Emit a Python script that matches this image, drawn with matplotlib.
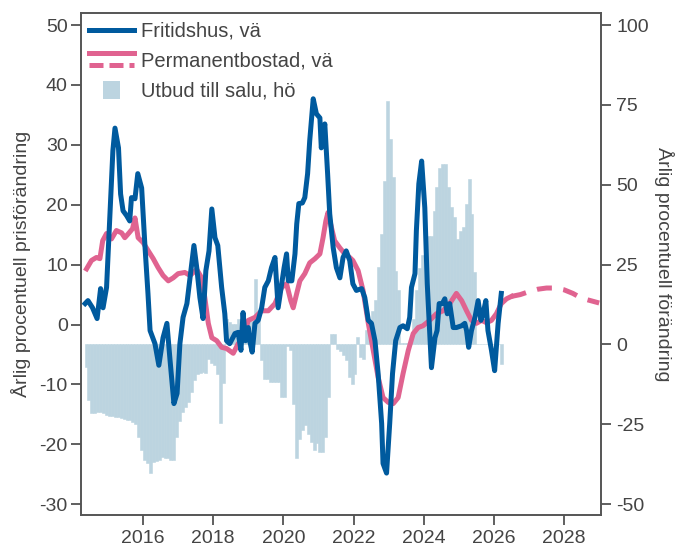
import numpy as np
import matplotlib
matplotlib.use("Agg")
import matplotlib.pyplot as plt
from matplotlib.lines import Line2D
from matplotlib.patches import Patch, Rectangle

plt.rcParams['font.family'] = ['Liberation Sans', 'DejaVu Sans']
plt.rcParams['axes.unicode_minus'] = False

BLUE = '#005a9e'
PINK = '#e06390'
BAR = '#bcd4e0'
GREY = '#444444'

# Fritidshus, årlig prisförändring (vänster axel)
fritid_t = [2014.35, 2014.43, 2014.56, 2014.69, 2014.79, 2014.86, 2014.96, 2015.06, 2015.14, 2015.20,
            2015.30, 2015.36, 2015.43, 2015.53, 2015.62, 2015.67, 2015.77, 2015.85, 2015.96, 2016.05,
            2016.14, 2016.20, 2016.34, 2016.45, 2016.57, 2016.68, 2016.77, 2016.88, 2016.97, 2017.05,
            2017.14, 2017.25, 2017.34, 2017.45, 2017.53, 2017.62, 2017.71, 2017.79, 2017.88, 2017.96,
            2018.05, 2018.13, 2018.24, 2018.33, 2018.38, 2018.47, 2018.62, 2018.71, 2018.79, 2018.85,
            2018.92, 2019.00, 2019.04, 2019.11, 2019.19, 2019.28, 2019.38, 2019.47, 2019.57, 2019.66,
            2019.76, 2019.85, 2019.95, 2020.02, 2020.09, 2020.14, 2020.24, 2020.33, 2020.38, 2020.44,
            2020.54, 2020.61, 2020.69, 2020.75, 2020.85, 2020.94, 2021.04, 2021.08, 2021.18, 2021.26,
            2021.32, 2021.42, 2021.51, 2021.61, 2021.70, 2021.79, 2021.89, 2021.98, 2022.08, 2022.23,
            2022.32, 2022.42, 2022.51, 2022.61, 2022.70, 2022.80, 2022.84, 2022.94, 2023.03, 2023.11,
            2023.20, 2023.32, 2023.41, 2023.53, 2023.60, 2023.65, 2023.75, 2023.79, 2023.86, 2023.94,
            2024.03, 2024.10, 2024.22, 2024.32, 2024.38, 2024.44, 2024.53, 2024.60, 2024.67, 2024.74,
            2024.84, 2024.93, 2025.08, 2025.17, 2025.22, 2025.28, 2025.36, 2025.46, 2025.55, 2025.63,
            2025.69, 2025.77, 2025.83, 2025.93, 2026.02, 2026.12, 2026.21]
fritid_v = [3.5, 4.0, 2.8, 1.0, 6.0, 2.8, 6.2, 19.0, 29.0, 32.8,
            29.5, 21.8, 19.0, 18.2, 17.3, 21.2, 21.0, 25.2, 22.8, 13.5,
            5.2, -1.0, -3.2, -6.8, -2.2, 0.2, -6.0, -13.2, -11.5, -3.2,
            1.2, 3.5, 7.8, 13.2, 9.5, 4.5, 1.0, 9.0, 12.3, 19.3,
            14.5, 13.2, 6.2, 1.8, -2.7, -3.2, -1.5, -1.3, -4.3, 2.0,
            -2.7, -0.5, -2.7, -4.6, 0.2, 0.7, 2.8, 6.2, 7.3, 9.5,
            11.2, 2.8, 6.8, 9.5, 11.8, 7.3, 7.3, 11.8, 16.8, 20.2,
            20.3, 21.2, 25.2, 30.7, 37.7, 35.2, 34.5, 29.5, 33.5, 25.2,
            18.5, 12.8, 9.5, 7.8, 11.2, 12.3, 10.7, 6.8, 5.7, 6.0,
            4.5, 0.7, 0.2, -2.7, -8.2, -16.5, -23.2, -24.8, -16.5, -8.2,
            -2.7, -0.5, -0.2, -0.7, 1.2, 6.2, 8.5, 15.7, 23.5, 27.3,
            19.5, 6.8, -7.2, -2.2, -1.0, 3.5, 3.5, 4.3, 1.8, 3.5,
            -0.5, -0.5, -0.2, 0.2, -1.0, -3.8, -1.0, 1.2, 4.0, 0.7,
            1.8, 4.0, -1.0, -4.3, -7.7, 0.2, 5.2]

# Permanentbostad, utfall (vänster axel)
perm_t = [2014.39, 2014.53, 2014.67, 2014.77, 2014.85, 2014.96, 2015.10, 2015.24, 2015.39, 2015.48,
          2015.60, 2015.70, 2015.77, 2015.86, 2016.00, 2016.15, 2016.29, 2016.43, 2016.57, 2016.72,
          2016.86, 2017.00, 2017.19, 2017.34, 2017.53, 2017.67, 2017.76, 2017.86, 2017.96, 2018.10,
          2018.24, 2018.38, 2018.57, 2018.71, 2018.85, 2019.00, 2019.19, 2019.38, 2019.57, 2019.76,
          2019.95, 2020.09, 2020.21, 2020.28, 2020.38, 2020.47, 2020.61, 2020.75, 2020.90, 2021.04,
          2021.13, 2021.21, 2021.27, 2021.37, 2021.46, 2021.61, 2021.75, 2021.89, 2021.98, 2022.13,
          2022.27, 2022.42, 2022.56, 2022.70, 2022.84, 2022.99, 2023.13, 2023.27, 2023.41, 2023.56,
          2023.70, 2023.84, 2023.98, 2024.17, 2024.36, 2024.55, 2024.74, 2024.93, 2025.08, 2025.22,
          2025.36, 2025.50, 2025.65, 2025.79, 2025.93, 2026.07, 2026.21, 2026.36, 2026.50]
perm_v = [9.3, 10.7, 11.2, 11.0, 14.0, 15.2, 14.3, 15.7, 15.3, 14.5,
          15.3, 16.0, 17.8, 14.5, 13.7, 12.3, 11.0, 9.5, 8.2, 7.3,
          7.8, 8.5, 8.7, 8.2, 9.2, 7.8, 4.5, 0.2, -2.2, -2.7,
          -3.8, -4.0, -4.8, -3.2, -2.2, 0.7, 1.2, 2.3, 2.3, 3.5,
          6.2, 6.8, 4.0, 2.8, 5.2, 7.3, 8.5, 10.3, 11.0, 11.8,
          14.5, 17.3, 18.7, 16.2, 14.0, 12.8, 11.8, 11.2, 10.7, 9.0,
          5.7, 0.2, -4.3, -8.8, -12.2, -13.0, -13.2, -12.2, -8.2, -4.3,
          -1.5, -0.5, -0.2, 0.7, 1.8, 2.3, 3.5, 5.2, 4.0, 2.3,
          0.7, 0.2, 0.7, 0.3, 0.7, 1.8, 3.5, 4.3, 4.7]

# Permanentbostad, prognos (streckad)
prog_t = [2026.50, 2026.75, 2027.00, 2027.25, 2027.50, 2027.75, 2028.00, 2028.25, 2028.50, 2028.75, 2029.00]
prog_v = [4.7, 5.0, 5.5, 5.9, 6.1, 6.1, 5.8, 5.2, 4.4, 4.0, 3.6]

# Utbud till salu, månadsvis från maj 2014 (höger axel)
utbud_start = 2014 + 4 / 12
utbud_v = [-7.0, -17.4, -21.6, -21.4, -21.3, -21.3, -21.5, -22.0, -22.3, -22.5,
           -22.8, -22.8, -23.0, -23.2, -23.6, -23.6, -24.3, -24.8, -28.9, -33.0,
           -36.2, -37.2, -40.3, -36.7, -36.5, -36.2, -35.1, -35.6, -35.6, -36.2,
           -36.2, -28.9, -24.0, -21.0, -19.5, -18.0, -14.8, -11.1, -9.1, -8.8,
           -8.6, -9.0, -4.4, -5.9, -6.3, -9.1, -24.7, -12.0, 8.0, 7.0,
           6.5, 6.5, 8.0, 8.0, 6.5, 6.5, 7.5, 7.5, 20.5, 9.6,
           -5.0, -10.7, -10.7, -11.8, -11.8, -11.8, -11.8, -16.5, -16.5, -0.5,
           -1.8, -18.5, -35.7, -29.5, -26.9, -25.3, -28.1, -30.5, -33.1, -31.0,
           -33.6, -33.6, -29.0, -16.5, 3.3, 3.3, -1.4, -1.9, -3.4, -5.0,
           -10.2, -12.3, -9.2, 2.3, -4.0, -4.5, 4.4, 4.4, 10.6, 13.8,
           24.2, 34.6, 51.3, 76.3, 64.3, 52.3, 23.1, 16.9, 0.5, 0.5,
           0.5, 0.8, 8.0, 17.0, 24.0, 28.0, 31.0, 34.0, 34.0, 41.9,
           49.2, 55.4, 56.5, 56.5, 49.2, 42.9, 39.8, 33.0, 35.6, 36.7,
           44.0, 51.8, 40.9, 22.6, 0.3, 0.3, 0.3, 0.3, 0.3, 0.3,
           0.3, 0.3, -6.0]

left_ticks = [-30, -20, -10, 0, 10, 20, 30, 40, 50]
right_ticks = [-50, -25, 0, 25, 50, 75, 100]
x_ticks = [2016, 2018, 2020, 2022, 2024, 2026, 2028]

FS = 14


class PermHandle:
    pass


class SolidDashHandler:
    # solid line above a dashed one, as in the original legend
    def legend_artist(self, legend, orig_handle, fontsize, handlebox):
        x0, y0 = handlebox.xdescent, handlebox.ydescent
        w, h = handlebox.width, handlebox.height
        top = Line2D([x0, x0 + w], [y0 + h * 1.0] * 2, color=PINK, lw=3.6)
        bot = Line2D([x0, x0 + w], [y0 + h * 0.1] * 2, color=PINK, lw=3.6,
                     ls=(0, (2.8, 1.2)))
        handlebox.add_artist(top)
        handlebox.add_artist(bot)
        return top


class SquareHandler:
    # small square centred in the handle area
    def legend_artist(self, legend, orig_handle, fontsize, handlebox):
        x0, y0 = handlebox.xdescent, handlebox.ydescent
        w, h = handlebox.width, handlebox.height
        s = h * 1.25
        sq = Rectangle((x0 + (w - s) / 2, y0 + (h - s) / 2), s, s,
                       facecolor=BAR, edgecolor='none',
                       transform=handlebox.get_transform())
        handlebox.add_artist(sq)
        return sq


fig = plt.figure(figsize=(6.86, 5.47), dpi=100)
ax = fig.add_axes([0.118, 0.0585, 0.758, 0.9175])
ax2 = ax.twinx()

bar_t = utbud_start + np.arange(len(utbud_v)) / 12
ax2.bar(bar_t, utbud_v, width=1 / 12, align='edge', color=BAR,
        edgecolor=BAR, linewidth=0.4)

ax.plot(perm_t, perm_v, color=PINK, lw=3.6, solid_joinstyle='round')
ax.plot(prog_t, prog_v, color=PINK, lw=3.6, ls=(0, (3, 2.3)))
ax.plot(fritid_t, fritid_v, color=BLUE, lw=3.6, solid_joinstyle='round')

ax.set_zorder(ax2.get_zorder() + 1)
ax.patch.set_visible(False)

ax.set_xlim(2014.23, 2029.05)
ax.set_ylim(-31.8, 52)
ax2.set_ylim(-53.4, 103.75)
ax.set_xticks(x_ticks)
ax.set_yticks(left_ticks)
ax2.set_yticks(right_ticks)

for a in (ax, ax2):
    for s in a.spines.values():
        s.set_color('#555555')
        s.set_linewidth(1.2)
    a.tick_params(colors=GREY, labelsize=FS, length=7, width=1.2, direction='out')
ax.tick_params(axis='x', pad=4)
ax.tick_params(axis='y', pad=2.5)
ax2.tick_params(axis='y', pad=4)

ax.set_ylabel('Årlig procentuell prisförändring', fontsize=FS, color=GREY, labelpad=6)
ax2.set_ylabel('Årlig procentuell förändring', fontsize=FS, color=GREY,
               rotation=270, labelpad=18)

h_fritid = Line2D([], [], color=BLUE, lw=3.6)
h_bar = Patch(color=BAR)
ax.legend([h_fritid, PermHandle(), h_bar],
          ['Fritidshus, vä', 'Permanentbostad, vä', 'Utbud till salu, hö'],
          handler_map={PermHandle: SolidDashHandler(), Patch: SquareHandler()},
          loc='upper left', bbox_to_anchor=(0.0, 1.0), borderaxespad=0,
          borderpad=0.42, frameon=False, fontsize=14.5,
          handlelength=2.2, handleheight=0.7, labelspacing=0.55, handletextpad=0.35,
          labelcolor=GREY)

fig.savefig('out.png', dpi=100)
